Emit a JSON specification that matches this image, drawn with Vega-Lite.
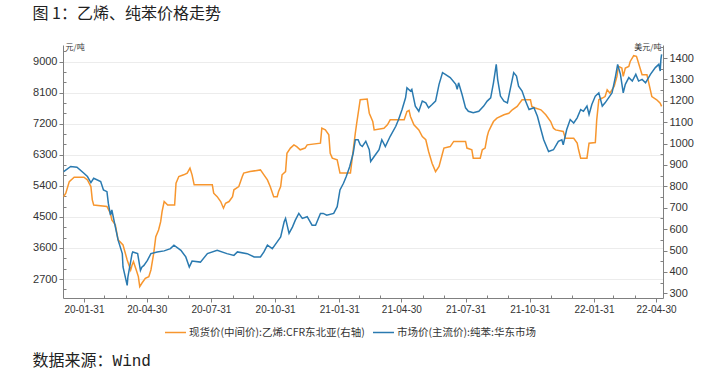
{
  "$schema": "https://vega.github.io/schema/vega-lite/v6.json",
  "padding": {"left": 32, "top": 6, "right": 5, "bottom": 3},
  "background": "white",
  "config": {
    "view": {"stroke": null},
    "font": "Liberation Sans",
    "axis": {"domainColor": "#808080", "tickColor": "#808080", "labelColor": "#333333", "labelFont": "Liberation Sans", "titleFont": "Noto Sans CJK SC", "titleFontWeight": "normal", "titleColor": "#333333", "labelOverlap": false, "labelFlush": false}
  },
  "datasets": {
    "ethylene": [
      {"date": "2020-01-02", "value": 752}, {"date": "2020-01-05", "value": 768}, {"date": "2020-01-10", "value": 822}, {"date": "2020-01-17", "value": 843}, {"date": "2020-01-31", "value": 843}, {"date": "2020-02-05", "value": 830}, {"date": "2020-02-10", "value": 799}, {"date": "2020-02-12", "value": 737}, {"date": "2020-02-14", "value": 713}, {"date": "2020-03-04", "value": 706}, {"date": "2020-03-09", "value": 674}, {"date": "2020-03-11", "value": 643}, {"date": "2020-03-16", "value": 620}, {"date": "2020-03-20", "value": 550}, {"date": "2020-03-27", "value": 526}, {"date": "2020-04-02", "value": 456}, {"date": "2020-04-07", "value": 409}, {"date": "2020-04-09", "value": 432}, {"date": "2020-04-11", "value": 448}, {"date": "2020-04-15", "value": 409}, {"date": "2020-04-18", "value": 378}, {"date": "2020-04-20", "value": 331}, {"date": "2020-04-23", "value": 347}, {"date": "2020-04-28", "value": 370}, {"date": "2020-05-03", "value": 378}, {"date": "2020-05-06", "value": 409}, {"date": "2020-05-10", "value": 487}, {"date": "2020-05-13", "value": 565}, {"date": "2020-05-17", "value": 596}, {"date": "2020-05-20", "value": 635}, {"date": "2020-05-22", "value": 682}, {"date": "2020-05-25", "value": 729}, {"date": "2020-05-30", "value": 713}, {"date": "2020-06-09", "value": 713}, {"date": "2020-06-11", "value": 815}, {"date": "2020-06-15", "value": 846}, {"date": "2020-06-22", "value": 854}, {"date": "2020-06-27", "value": 862}, {"date": "2020-07-01", "value": 885}, {"date": "2020-07-04", "value": 854}, {"date": "2020-07-07", "value": 807}, {"date": "2020-08-02", "value": 807}, {"date": "2020-08-04", "value": 768}, {"date": "2020-08-09", "value": 752}, {"date": "2020-08-14", "value": 729}, {"date": "2020-08-18", "value": 698}, {"date": "2020-08-21", "value": 721}, {"date": "2020-08-26", "value": 729}, {"date": "2020-08-31", "value": 752}, {"date": "2020-09-02", "value": 784}, {"date": "2020-09-09", "value": 799}, {"date": "2020-09-14", "value": 846}, {"date": "2020-09-16", "value": 862}, {"date": "2020-09-25", "value": 869}, {"date": "2020-10-10", "value": 877}, {"date": "2020-10-15", "value": 854}, {"date": "2020-10-20", "value": 830}, {"date": "2020-10-24", "value": 799}, {"date": "2020-10-29", "value": 752}, {"date": "2020-11-03", "value": 752}, {"date": "2020-11-05", "value": 776}, {"date": "2020-11-08", "value": 799}, {"date": "2020-11-10", "value": 854}, {"date": "2020-11-15", "value": 869}, {"date": "2020-11-17", "value": 955}, {"date": "2020-11-22", "value": 979}, {"date": "2020-11-27", "value": 994}, {"date": "2020-12-01", "value": 986}, {"date": "2020-12-06", "value": 971}, {"date": "2020-12-13", "value": 979}, {"date": "2020-12-16", "value": 994}, {"date": "2021-01-04", "value": 1002}, {"date": "2021-01-06", "value": 1072}, {"date": "2021-01-11", "value": 1064}, {"date": "2021-01-16", "value": 1041}, {"date": "2021-01-18", "value": 955}, {"date": "2021-01-21", "value": 932}, {"date": "2021-01-28", "value": 924}, {"date": "2021-02-01", "value": 862}, {"date": "2021-02-16", "value": 862}, {"date": "2021-02-20", "value": 971}, {"date": "2021-02-23", "value": 1049}, {"date": "2021-02-25", "value": 1096}, {"date": "2021-03-02", "value": 1205}, {"date": "2021-03-12", "value": 1208}, {"date": "2021-03-15", "value": 1142}, {"date": "2021-03-20", "value": 1103}, {"date": "2021-03-22", "value": 1064}, {"date": "2021-04-05", "value": 1072}, {"date": "2021-04-10", "value": 1088}, {"date": "2021-04-14", "value": 1111}, {"date": "2021-05-04", "value": 1111}, {"date": "2021-05-08", "value": 1150}, {"date": "2021-05-11", "value": 1155}, {"date": "2021-05-13", "value": 1127}, {"date": "2021-05-18", "value": 1088}, {"date": "2021-05-25", "value": 1064}, {"date": "2021-05-30", "value": 1033}, {"date": "2021-06-04", "value": 1018}, {"date": "2021-06-08", "value": 963}, {"date": "2021-06-13", "value": 908}, {"date": "2021-06-18", "value": 869}, {"date": "2021-06-23", "value": 893}, {"date": "2021-06-28", "value": 955}, {"date": "2021-06-30", "value": 979}, {"date": "2021-07-09", "value": 986}, {"date": "2021-07-14", "value": 1010}, {"date": "2021-07-31", "value": 1010}, {"date": "2021-08-02", "value": 979}, {"date": "2021-08-09", "value": 971}, {"date": "2021-08-11", "value": 932}, {"date": "2021-08-21", "value": 932}, {"date": "2021-08-24", "value": 971}, {"date": "2021-08-28", "value": 979}, {"date": "2021-08-31", "value": 1033}, {"date": "2021-09-02", "value": 1057}, {"date": "2021-09-05", "value": 1077}, {"date": "2021-09-09", "value": 1103}, {"date": "2021-09-14", "value": 1119}, {"date": "2021-09-24", "value": 1135}, {"date": "2021-10-01", "value": 1142}, {"date": "2021-10-06", "value": 1158}, {"date": "2021-10-13", "value": 1174}, {"date": "2021-10-20", "value": 1205}, {"date": "2021-11-01", "value": 1205}, {"date": "2021-11-03", "value": 1174}, {"date": "2021-11-08", "value": 1166}, {"date": "2021-11-16", "value": 1158}, {"date": "2021-11-23", "value": 1135}, {"date": "2021-11-30", "value": 1103}, {"date": "2021-12-04", "value": 1072}, {"date": "2021-12-07", "value": 1064}, {"date": "2021-12-18", "value": 1057}, {"date": "2021-12-21", "value": 1025}, {"date": "2022-01-02", "value": 1025}, {"date": "2022-01-07", "value": 1002}, {"date": "2022-01-09", "value": 971}, {"date": "2022-01-12", "value": 932}, {"date": "2022-01-21", "value": 932}, {"date": "2022-01-24", "value": 1002}, {"date": "2022-02-02", "value": 1005}, {"date": "2022-02-04", "value": 1111}, {"date": "2022-02-07", "value": 1205}, {"date": "2022-02-12", "value": 1213}, {"date": "2022-02-16", "value": 1220}, {"date": "2022-02-19", "value": 1252}, {"date": "2022-02-23", "value": 1236}, {"date": "2022-02-26", "value": 1252}, {"date": "2022-03-01", "value": 1267}, {"date": "2022-03-05", "value": 1314}, {"date": "2022-03-07", "value": 1361}, {"date": "2022-03-12", "value": 1353}, {"date": "2022-03-14", "value": 1314}, {"date": "2022-03-17", "value": 1353}, {"date": "2022-03-22", "value": 1361}, {"date": "2022-03-24", "value": 1384}, {"date": "2022-03-29", "value": 1411}, {"date": "2022-04-02", "value": 1408}, {"date": "2022-04-05", "value": 1376}, {"date": "2022-04-10", "value": 1322}, {"date": "2022-04-17", "value": 1322}, {"date": "2022-04-24", "value": 1220}, {"date": "2022-05-01", "value": 1205}, {"date": "2022-05-06", "value": 1189}, {"date": "2022-05-08", "value": 1174}
    ],
    "benzene": [
      {"date": "2020-01-02", "value": 5810}, {"date": "2020-01-12", "value": 5960}, {"date": "2020-01-21", "value": 5940}, {"date": "2020-01-31", "value": 5765}, {"date": "2020-02-05", "value": 5670}, {"date": "2020-02-10", "value": 5495}, {"date": "2020-02-14", "value": 5620}, {"date": "2020-02-24", "value": 5525}, {"date": "2020-02-28", "value": 5280}, {"date": "2020-03-04", "value": 5230}, {"date": "2020-03-06", "value": 4890}, {"date": "2020-03-09", "value": 4550}, {"date": "2020-03-11", "value": 4700}, {"date": "2020-03-16", "value": 4210}, {"date": "2020-03-20", "value": 3825}, {"date": "2020-03-26", "value": 3435}, {"date": "2020-03-27", "value": 3050}, {"date": "2020-04-02", "value": 2515}, {"date": "2020-04-03", "value": 2755}, {"date": "2020-04-09", "value": 3435}, {"date": "2020-04-10", "value": 3485}, {"date": "2020-04-17", "value": 3435}, {"date": "2020-04-21", "value": 2950}, {"date": "2020-04-23", "value": 3045}, {"date": "2020-04-26", "value": 3095}, {"date": "2020-05-01", "value": 3240}, {"date": "2020-05-06", "value": 3435}, {"date": "2020-05-15", "value": 3485}, {"date": "2020-05-25", "value": 3515}, {"date": "2020-06-03", "value": 3580}, {"date": "2020-06-08", "value": 3680}, {"date": "2020-06-18", "value": 3530}, {"date": "2020-06-25", "value": 3340}, {"date": "2020-06-30", "value": 3045}, {"date": "2020-07-04", "value": 3220}, {"date": "2020-07-16", "value": 3190}, {"date": "2020-07-26", "value": 3435}, {"date": "2020-08-09", "value": 3530}, {"date": "2020-08-23", "value": 3435}, {"date": "2020-09-02", "value": 3385}, {"date": "2020-09-07", "value": 3485}, {"date": "2020-09-21", "value": 3435}, {"date": "2020-10-01", "value": 3340}, {"date": "2020-10-10", "value": 3340}, {"date": "2020-10-15", "value": 3485}, {"date": "2020-10-20", "value": 3680}, {"date": "2020-10-27", "value": 3580}, {"date": "2020-11-03", "value": 3775}, {"date": "2020-11-08", "value": 3920}, {"date": "2020-11-13", "value": 4360}, {"date": "2020-11-15", "value": 4455}, {"date": "2020-11-20", "value": 4020}, {"date": "2020-11-25", "value": 4210}, {"date": "2020-11-29", "value": 4405}, {"date": "2020-12-04", "value": 4600}, {"date": "2020-12-09", "value": 4455}, {"date": "2020-12-16", "value": 4505}, {"date": "2020-12-23", "value": 4260}, {"date": "2020-12-28", "value": 4260}, {"date": "2021-01-04", "value": 4600}, {"date": "2021-01-08", "value": 4600}, {"date": "2021-01-13", "value": 4550}, {"date": "2021-01-23", "value": 4600}, {"date": "2021-01-28", "value": 4795}, {"date": "2021-02-01", "value": 5280}, {"date": "2021-02-06", "value": 5475}, {"date": "2021-02-10", "value": 5670}, {"date": "2021-02-15", "value": 5960}, {"date": "2021-02-20", "value": 6350}, {"date": "2021-02-23", "value": 6735}, {"date": "2021-02-27", "value": 6735}, {"date": "2021-03-02", "value": 6590}, {"date": "2021-03-05", "value": 6540}, {"date": "2021-03-10", "value": 6690}, {"date": "2021-03-15", "value": 6445}, {"date": "2021-03-17", "value": 6105}, {"date": "2021-03-22", "value": 6250}, {"date": "2021-03-29", "value": 6445}, {"date": "2021-04-02", "value": 6735}, {"date": "2021-04-07", "value": 6540}, {"date": "2021-04-14", "value": 6835}, {"date": "2021-04-22", "value": 7125}, {"date": "2021-04-26", "value": 7320}, {"date": "2021-05-01", "value": 7610}, {"date": "2021-05-06", "value": 7950}, {"date": "2021-05-08", "value": 8240}, {"date": "2021-05-13", "value": 8145}, {"date": "2021-05-15", "value": 8195}, {"date": "2021-05-20", "value": 7710}, {"date": "2021-05-25", "value": 7560}, {"date": "2021-05-30", "value": 7855}, {"date": "2021-06-04", "value": 7805}, {"date": "2021-06-08", "value": 7660}, {"date": "2021-06-13", "value": 7755}, {"date": "2021-06-18", "value": 7855}, {"date": "2021-06-23", "value": 8340}, {"date": "2021-06-28", "value": 8680}, {"date": "2021-07-02", "value": 8630}, {"date": "2021-07-09", "value": 8535}, {"date": "2021-07-17", "value": 8340}, {"date": "2021-07-19", "value": 8195}, {"date": "2021-07-21", "value": 8385}, {"date": "2021-07-26", "value": 8045}, {"date": "2021-07-31", "value": 7660}, {"date": "2021-08-04", "value": 7560}, {"date": "2021-08-11", "value": 7515}, {"date": "2021-08-19", "value": 7560}, {"date": "2021-08-26", "value": 7710}, {"date": "2021-08-31", "value": 7855}, {"date": "2021-09-05", "value": 7950}, {"date": "2021-09-09", "value": 8385}, {"date": "2021-09-13", "value": 8920}, {"date": "2021-09-15", "value": 8485}, {"date": "2021-09-19", "value": 8000}, {"date": "2021-09-24", "value": 7855}, {"date": "2021-09-29", "value": 7805}, {"date": "2021-10-03", "value": 8195}, {"date": "2021-10-08", "value": 8680}, {"date": "2021-10-12", "value": 8580}, {"date": "2021-10-15", "value": 8290}, {"date": "2021-10-20", "value": 8145}, {"date": "2021-10-25", "value": 7855}, {"date": "2021-10-30", "value": 7610}, {"date": "2021-11-06", "value": 7660}, {"date": "2021-11-11", "value": 7415}, {"date": "2021-11-16", "value": 7030}, {"date": "2021-11-20", "value": 6735}, {"date": "2021-11-27", "value": 6395}, {"date": "2021-12-04", "value": 6445}, {"date": "2021-12-11", "value": 6690}, {"date": "2021-12-16", "value": 6735}, {"date": "2021-12-18", "value": 6590}, {"date": "2021-12-23", "value": 7030}, {"date": "2021-12-28", "value": 7320}, {"date": "2022-01-02", "value": 7220}, {"date": "2022-01-07", "value": 7370}, {"date": "2022-01-12", "value": 7610}, {"date": "2022-01-16", "value": 7560}, {"date": "2022-01-21", "value": 7710}, {"date": "2022-01-24", "value": 7465}, {"date": "2022-01-28", "value": 7755}, {"date": "2022-02-02", "value": 8000}, {"date": "2022-02-07", "value": 8095}, {"date": "2022-02-12", "value": 7710}, {"date": "2022-02-16", "value": 7805}, {"date": "2022-02-21", "value": 7950}, {"date": "2022-02-26", "value": 8095}, {"date": "2022-03-03", "value": 8580}, {"date": "2022-03-06", "value": 8920}, {"date": "2022-03-10", "value": 8630}, {"date": "2022-03-14", "value": 8095}, {"date": "2022-03-17", "value": 8340}, {"date": "2022-03-22", "value": 8535}, {"date": "2022-03-27", "value": 8435}, {"date": "2022-04-01", "value": 8630}, {"date": "2022-04-05", "value": 8435}, {"date": "2022-04-10", "value": 8485}, {"date": "2022-04-15", "value": 8385}, {"date": "2022-04-22", "value": 8630}, {"date": "2022-04-29", "value": 8825}, {"date": "2022-05-04", "value": 8920}, {"date": "2022-05-06", "value": 8725}, {"date": "2022-05-07", "value": 9065}, {"date": "2022-05-08", "value": 9210}
    ]
  },
  "title": {"text": "数据来源：Wind", "orient": "bottom", "anchor": "start", "font": "Liberation Mono, Noto Sans CJK SC", "fontSize": 16, "fontWeight": "normal", "color": "#222222", "offset": 15},
  "vconcat": [
    {
      "width": 600,
      "height": 253,
      "title": {"text": "图 1：乙烯、纯苯价格走势", "anchor": "start", "font": "Noto Sans CJK SC", "fontSize": 16, "fontWeight": "normal", "color": "#222222", "offset": 21},
      "layer": [
        {
          "data": {"name": "ethylene"},
          "layer": [
            {
              "mark": {"type": "line", "strokeWidth": 1.5},
              "encoding": {
                "x": {"field": "date", "type": "temporal", "scale": {"type": "utc", "domain": [{"year": 2020, "month": 1, "date": 1, "utc": true}, {"year": 2022, "month": 5, "date": 10, "utc": true}]}, "axis": null},
                "y": {"field": "value", "type": "quantitative", "scale": {"domain": [278, 1461], "nice": false, "zero": false}, "axis": {"orient": "right", "values": [300, 400, 500, 600, 700, 800, 900, 1000, 1100, 1200, 1300, 1400], "format": "d", "grid": false, "tickSize": 4, "labelFontSize": 11, "labelPadding": 2, "title": "美元/吨", "titleFontSize": 8, "titleAngle": 0, "titleAlign": "right", "titleBaseline": "bottom", "titleX": -2, "titleY": 6}},
                "color": {"datum": "现货价(中间价):乙烯:CFR东北亚(右轴)", "type": "nominal", "scale": {"domain": ["现货价(中间价):乙烯:CFR东北亚(右轴)", "市场价(主流价):纯苯:华东市场"], "range": ["#F7962E", "#2A7AB0"]}, "legend": {"orient": "none", "legendX": 101, "legendY": 276, "direction": "horizontal", "title": null, "symbolType": "stroke", "symbolSize": 441, "symbolStrokeWidth": 1.5, "labelFont": "Noto Sans CJK SC", "labelFontSize": 10.5, "labelColor": "#333333", "labelOffset": 2, "columnPadding": 5, "labelLimit": 400}}
              }
            },
            {
              "mark": {"type": "line", "opacity": 0},
              "encoding": {
                "x": {"field": "date", "type": "temporal", "scale": {"type": "utc", "domain": [{"year": 2020, "month": 1, "date": 1, "utc": true}, {"year": 2022, "month": 5, "date": 10, "utc": true}]}, "axis": null},
                "y": {"field": "value", "type": "quantitative", "scale": {"domain": [278, 1461], "nice": false, "zero": false}, "axis": {"orient": "right", "values": [350, 450, 550, 650, 750, 850, 950, 1050, 1150, 1250, 1350, 1450], "grid": false, "tickSize": -3, "labels": false, "domain": false, "title": null}}
              }
            }
          ],
          "resolve": {"axis": {"y": "independent"}}
        },
        {
          "data": {"name": "benzene"},
          "layer": [
            {
              "mark": {"type": "line", "strokeWidth": 1.5},
              "encoding": {
                "x": {"field": "date", "type": "temporal", "scale": {"type": "utc", "domain": [{"year": 2020, "month": 1, "date": 1, "utc": true}, {"year": 2022, "month": 5, "date": 10, "utc": true}]}, "axis": {"orient": "bottom", "values": [{"year": 2020, "month": 1, "date": 31, "utc": true}, {"year": 2020, "month": 4, "date": 30, "utc": true}, {"year": 2020, "month": 7, "date": 31, "utc": true}, {"year": 2020, "month": 10, "date": 31, "utc": true}, {"year": 2021, "month": 1, "date": 31, "utc": true}, {"year": 2021, "month": 4, "date": 30, "utc": true}, {"year": 2021, "month": 7, "date": 31, "utc": true}, {"year": 2021, "month": 10, "date": 31, "utc": true}, {"year": 2022, "month": 1, "date": 31, "utc": true}, {"year": 2022, "month": 4, "date": 30, "utc": true}], "format": "%y-%m-%d", "grid": false, "tickSize": 4, "labelFontSize": 10, "labelPadding": 2, "title": null}},
                "y": {"field": "value", "type": "quantitative", "scale": {"domain": [2150, 9480], "nice": false, "zero": false}, "axis": {"orient": "left", "values": [2700, 3600, 4500, 5400, 6300, 7200, 8100, 9000], "format": "d", "grid": true, "gridColor": "#ececec", "tickSize": 4, "labelFontSize": 11, "labelPadding": 2, "title": "元/吨", "titleFontSize": 8, "titleAngle": 0, "titleAlign": "left", "titleBaseline": "bottom", "titleX": 2, "titleY": 6}},
                "color": {"datum": "市场价(主流价):纯苯:华东市场", "type": "nominal", "scale": {"domain": ["现货价(中间价):乙烯:CFR东北亚(右轴)", "市场价(主流价):纯苯:华东市场"], "range": ["#F7962E", "#2A7AB0"]}, "legend": {"orient": "none", "legendX": 101, "legendY": 276, "direction": "horizontal", "title": null, "symbolType": "stroke", "symbolSize": 441, "symbolStrokeWidth": 1.5, "labelFont": "Noto Sans CJK SC", "labelFontSize": 10.5, "labelColor": "#333333", "labelOffset": 2, "columnPadding": 5, "labelLimit": 400}}
              }
            },
            {
              "mark": {"type": "line", "opacity": 0},
              "encoding": {
                "x": {"field": "date", "type": "temporal", "scale": {"type": "utc", "domain": [{"year": 2020, "month": 1, "date": 1, "utc": true}, {"year": 2022, "month": 5, "date": 10, "utc": true}]}, "axis": {"orient": "bottom", "values": [{"year": 2020, "month": 2, "date": 29, "utc": true}, {"year": 2020, "month": 3, "date": 31, "utc": true}, {"year": 2020, "month": 5, "date": 31, "utc": true}, {"year": 2020, "month": 6, "date": 30, "utc": true}, {"year": 2020, "month": 8, "date": 31, "utc": true}, {"year": 2020, "month": 9, "date": 30, "utc": true}, {"year": 2020, "month": 11, "date": 30, "utc": true}, {"year": 2020, "month": 12, "date": 31, "utc": true}, {"year": 2021, "month": 2, "date": 28, "utc": true}, {"year": 2021, "month": 3, "date": 31, "utc": true}, {"year": 2021, "month": 5, "date": 31, "utc": true}, {"year": 2021, "month": 6, "date": 30, "utc": true}, {"year": 2021, "month": 8, "date": 31, "utc": true}, {"year": 2021, "month": 9, "date": 30, "utc": true}, {"year": 2021, "month": 11, "date": 30, "utc": true}, {"year": 2021, "month": 12, "date": 31, "utc": true}, {"year": 2022, "month": 2, "date": 28, "utc": true}, {"year": 2022, "month": 3, "date": 31, "utc": true}], "grid": false, "tickSize": -3, "labels": false, "domain": false, "title": null}},
                "y": {"field": "value", "type": "quantitative", "scale": {"domain": [2150, 9480], "nice": false, "zero": false}, "axis": {"orient": "left", "values": [2400, 3000, 3300, 3900, 4200, 4800, 5100, 5700, 6000, 6600, 6900, 7500, 7800, 8400, 8700, 9300], "grid": false, "tickSize": -3, "labels": false, "domain": false, "title": null}}
              }
            }
          ],
          "resolve": {"axis": {"x": "independent", "y": "independent"}}
        }
      ],
      "resolve": {"scale": {"y": "independent"}}
    }
  ]
}
